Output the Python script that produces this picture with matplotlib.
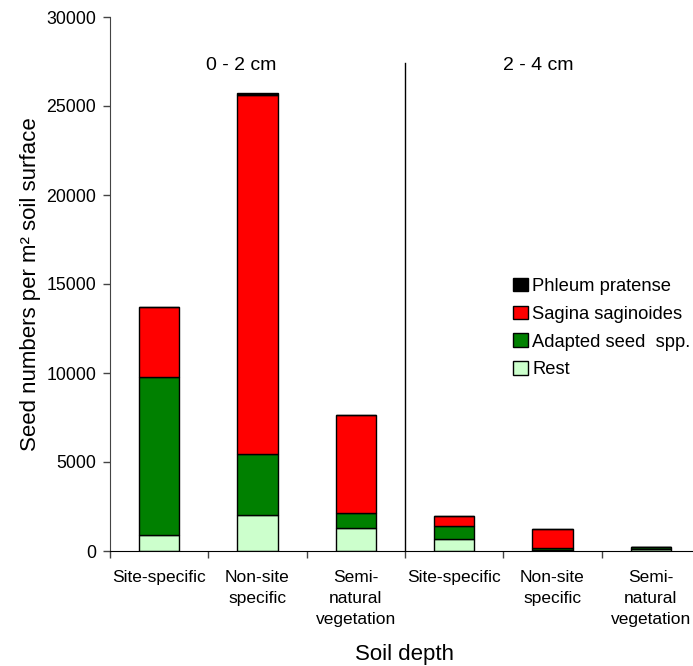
import matplotlib
matplotlib.use('Agg')
import matplotlib.pyplot as plt
import numpy as np

plt.rcParams['font.family'] = ['Liberation Sans', 'DejaVu Sans']

# categories along the x axis (two depth groups of three)
categories = ['Site-specific', 'Non-site\nspecific', 'Semi-\nnatural\nvegetation',
              'Site-specific', 'Non-site\nspecific', 'Semi-\nnatural\nvegetation']

# seed numbers per m2 (bottom to top of the stack)
rest = [900, 2020, 1290, 680, 30, 130]
adapted = [8890, 3410, 860, 720, 140, 110]
sagina = [3900, 20205, 5500, 560, 1070, 0]
phleum = [30, 115, 0, 0, 0, 0]

series = [('Rest', rest, '#CCFFCC'),
          ('Adapted seed  spp.', adapted, '#008000'),
          ('Sagina saginoides', sagina, '#FF0000'),
          ('Phleum pratense', phleum, '#000000')]

fig = plt.figure(figsize=(6.93, 6.66), dpi=100)
ax = fig.add_axes([110 / 693, 115 / 666, 590 / 693, 534 / 666])

x = np.arange(len(categories))
bottom = np.zeros(len(categories))
handles = {}
for name, vals, col in series:
    vals = np.array(vals, dtype=float)
    b = ax.bar(x, vals, width=0.41, bottom=bottom, color=col,
               edgecolor='black', linewidth=1, label=name)
    handles[name] = b
    bottom += vals

# divider between the depth groups
ax.plot([2.5, 2.5], [0, 27400], color='black', lw=1)
ax.text(0.834, 27300, '0 - 2 cm', ha='center', va='center', fontsize=14)
ax.text(3.855, 27300, '2 - 4 cm', ha='center', va='center', fontsize=14)

ax.set_xlim(-0.5, 5.5)
ax.set_ylim(0, 30000)
ax.set_yticks(np.arange(0, 30001, 5000))
ax.tick_params(axis='y', direction='out', length=5, width=1, labelsize=12.8, pad=5, color='#444444')

# boundary ticks without labels, category labels as minor ticks
ax.set_xticks(np.arange(-0.5, 5.6, 1.0))
ax.set_xticklabels([])
ax.set_xticks(x, minor=True)
ax.set_xticklabels(categories, minor=True, fontsize=12.5)
for lab in ax.get_xticklabels(minor=True):
    lab.set_linespacing(1.5)
ax.tick_params(axis='x', which='major', direction='out', length=5, width=1, color='#444444')
ax.tick_params(axis='x', which='minor', length=0, pad=14)

for s in ['top', 'right']:
    ax.spines[s].set_visible(False)
ax.spines['left'].set_color('#444444')
ax.spines['bottom'].set_color('black')

ax.set_xlabel('Soil depth', fontsize=16, labelpad=12)
ax.set_ylabel('Seed numbers per m² soil surface', fontsize=16, labelpad=4)

order = ['Phleum pratense', 'Sagina saginoides', 'Adapted seed  spp.', 'Rest']
ax.legend([handles[n] for n in order], order, loc='upper left',
          bbox_to_anchor=((513 - 110) / 590, (551 - 278) / 534),
          frameon=False, fontsize=13.2, borderpad=0, borderaxespad=0,
          handlelength=0.8, handleheight=0.75, handletextpad=0.25, labelspacing=0.58)

fig.savefig('out.png', dpi=100)
